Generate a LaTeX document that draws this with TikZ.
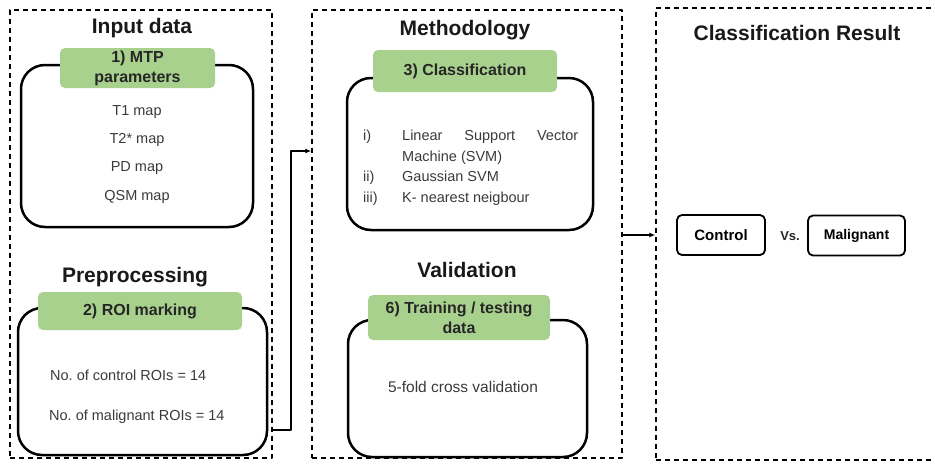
\documentclass[tikz,border=0pt]{standalone}
\usepackage{fontspec}
\setmainfont{Liberation Sans}
\usetikzlibrary{arrows.meta}
\definecolor{tabgreen}{RGB}{169,209,142}
\definecolor{bodygray}{RGB}{58,58,58}
\frenchspacing
\begin{document}
\begin{tikzpicture}[x=1pt, y=-1pt, line join=round, >={Latex[length=6pt,width=5pt]},
	outerbox/.style={draw, line width=1.4pt, dash pattern=on 5pt off 4pt, inner sep=0pt},
	roundbox/.style={draw, line width=2.5pt, rounded corners=24pt, inner sep=0pt},
	tabbox/.style={fill=tabgreen, rounded corners=5pt, inner sep=0pt, align=center, text=black!85, font=\bfseries\fontsize{16}{20}\selectfont},
	heading/.style={text=black!90, font=\bfseries\fontsize{21}{25}\selectfont},
	body/.style={text=bodygray, font=\fontsize{14.5}{18}\selectfont},
	item/.style={body, anchor=base west, inner sep=0pt},
	resbox/.style={draw, line width=1.8pt, rounded corners=5pt, inner sep=0pt, minimum height=40pt, font=\bfseries\fontsize{15}{18}\selectfont},
	link/.style={->, line width=1.8pt}]
	\useasboundingbox (0,0) rectangle (935,464);
	\clip (0,0) rectangle (935,464);
	% outer dashed panels
	\node[outerbox, minimum width=262pt, minimum height=448pt] (inbox) at (141,234) {};
	\node[outerbox, minimum width=310pt, minimum height=448pt] (methbox) at (467,234) {};
	\node[outerbox, minimum width=294pt, minimum height=452pt] (resultbox) at (803,234) {};
	% headings
	\node[heading] (inhead) at (142,28) {Input data};
	\node[heading] (prehead) at (135,277) {Preprocessing};
	\node[heading] (methhead) at (465,30) {Methodology};
	\node[heading] (valhead) at (467,270) {Validation};
	\node[heading] (reshead) at (797,33) {Classification Result};
	% rounded frames
	\node[roundbox, minimum width=232pt, minimum height=162pt] (mtp) at (137,146) {};
	\node[roundbox, minimum width=249pt, minimum height=147pt] (roi) at (142.5,381.5) {};
	\node[roundbox, minimum width=246pt, minimum height=152pt] (cls) at (470,154) {};
	\node[roundbox, minimum width=239pt, minimum height=137pt] (val) at (467.5,388.5) {};
	% green tabs
	\node[tabbox, minimum width=155pt, minimum height=40pt] (mtptab) at (137.5,68) {1) MTP\\parameters};
	\node[tabbox, minimum width=204pt, minimum height=38pt] (roitab) at (140,311) {2) ROI marking};
	\node[tabbox, minimum width=184pt, minimum height=42pt] (clstab) at (465,71) {3) Classification};
	\node[tabbox, minimum width=182pt, minimum height=45pt] (valtab) at (459,317.5) {6) Training / testing\\data};
	% MTP maps
	\node[body] (tone) at (137,112) {T1 map};
	\node[body] (ttwo) at (137,140) {T2* map};
	\node[body] (pd) at (137,168) {PD map};
	\node[body] (qsm) at (137,197) {QSM map};
	% ROI counts
	\node[item] (nctrl) at (50,380) {No. of control ROIs = 14};
	\node[item] (nmal) at (49,420) {No. of malignant ROIs = 14};
	% classifiers
	\node[item] (li) at (363,140) {i)};
	\node[item] (lsvm) at (402,140) {\makebox[176pt][s]{Linear Support Vector}};
	\node[item] (lsvmb) at (402,161) {Machine (SVM)};
	\node[item] (lii) at (363,181) {ii)};
	\node[item] (gsvm) at (402,181) {Gaussian SVM};
	\node[item] (liii) at (363,202) {iii)};
	\node[item] (knn) at (402,202) {K- nearest neigbour};
	% validation
	\node[body, font=\fontsize{15.5}{18}\selectfont] (cv) at (463,387) {5-fold cross validation};
	% result
	\node[resbox, minimum width=88pt] (ctrl) at (721,235) {Control};
	\node[text=black!85, font=\bfseries\fontsize{13}{16}\selectfont] (vs) at (790,236) {Vs.};
	\node[resbox, minimum width=97pt, font=\bfseries\fontsize{14}{17}\selectfont] (malig) at (856.5,235.5) {Malignant};
	% connectors
	\coordinate (bend) at (291,151);
	\draw[link] (inbox.east |- 0,430) -| (bend) -- (methbox.west |- bend);
	\draw[link] (methbox.east |- 0,235) -- (resultbox.west |- 0,235);
\end{tikzpicture}
\end{document}
